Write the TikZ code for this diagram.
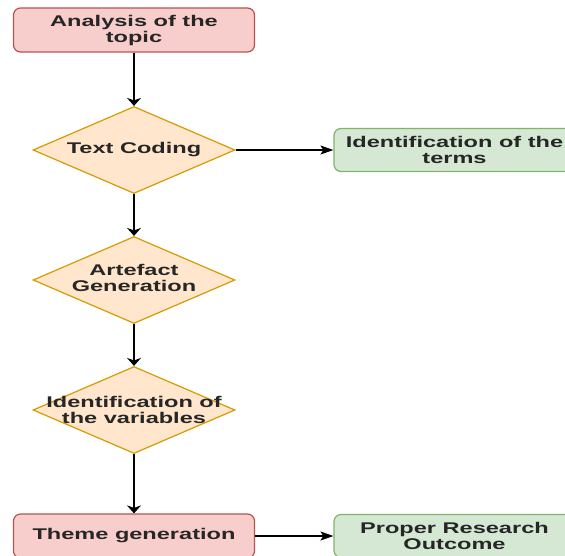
\documentclass[tikz,border=0pt]{standalone}
\usepackage{fontspec}
\setmainfont{Liberation Sans}[FakeStretch=1.52]
\usetikzlibrary{shapes.geometric,arrows.meta}
\definecolor{redfill}{HTML}{F8CECC}
\definecolor{redline}{HTML}{B85450}
\definecolor{orfill}{HTML}{FFE6CC}
\definecolor{orline}{HTML}{D79B00}
\definecolor{grfill}{HTML}{D5E8D4}
\definecolor{grline}{HTML}{82B366}
\definecolor{txt}{HTML}{262626}
\tikzset{
  lbl/.style={font=\fontsize{15.5}{16}\selectfont\bfseries, text=txt, align=center, inner sep=0pt},
  redbox/.style={draw=redline, fill=redfill, line width=1.2pt, rounded corners=7pt,
    minimum width=241pt, minimum height=44pt, inner sep=0pt, lbl},
  greenbox/.style={draw=grline, fill=grfill, line width=1.2pt, rounded corners=7pt,
    minimum width=241pt, minimum height=43pt, inner sep=0pt, lbl},
  decision/.style={diamond, draw=orline, fill=orfill, line width=1.2pt,
    minimum width=202pt, minimum height=87pt, inner sep=0pt},
  down/.style={draw=black, line width=1.5pt, -{Stealth[length=8pt,width=14pt,inset=2.5pt]}},
  across/.style={draw=black, line width=1.1pt, -{Stealth[length=13pt,width=9pt,inset=3pt]}},
}
\begin{document}
\begin{tikzpicture}[x=1pt,y=-1pt]
\useasboundingbox (0,0) rectangle (565,555);
\fill[white] (0,0) rectangle (565,555);

\node[redbox] (a) at (134,30) {Analysis of the\\topic};
\node[decision, label={[lbl]center:{Text Coding}}] (b) at (134,150) {};
\node[greenbox] (c) at (454.5,150) {Identification of the\\terms};
\node[decision, label={[lbl,yshift=2pt]center:{Artefact\\Generation}}] (d) at (134,280) {};
\node[decision, label={[lbl]center:{Identification of\\the variables}}] (e) at (134,410) {};
\node[redbox] (f) at (134,536) {Theme generation};
\node[greenbox] (g) at (454.5,536) {Proper Research\\Outcome};

\draw[down] (a) -- (b);
\draw[down] (b) -- (d);
\draw[down] (d) -- (e);
\draw[down] (e) -- (f);
\draw[across] (b.east) -- (c.west);
\draw[across] (f.east) -- (g.west);
\end{tikzpicture}
\end{document}
